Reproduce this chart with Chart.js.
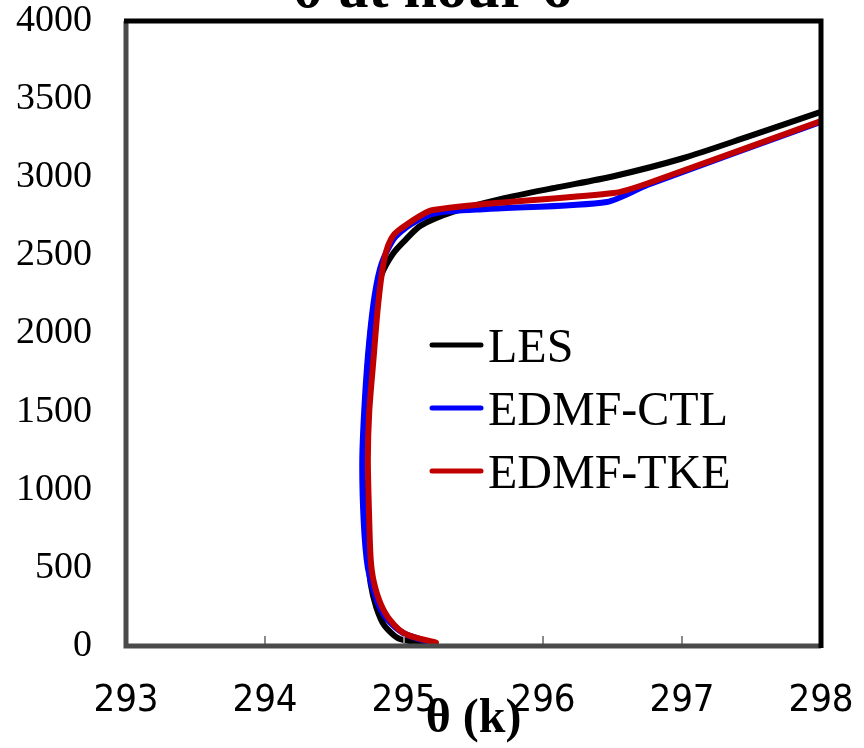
<!DOCTYPE html>
<html>
<head>
<meta charset="utf-8">
<script src="https://cdn.jsdelivr.net/npm/chart.js@4.4.1/dist/chart.umd.min.js"></script>
<style>
  html, body { margin: 0; padding: 0; background: #fff; }
</style>
</head>
<body>
<canvas id="thetaChart" width="864" height="748"></canvas>
<script>
const seriesNames = ['LES', 'EDMF-CTL', 'EDMF-TKE'];
const seriesColors = ['#000000', '#0000FF', '#C00000'];

// LES profile: theta (K) vs height (m)
const lesTheta = [295.20, 294.97, 294.86, 294.80, 294.76, 294.73, 294.72, 294.72, 294.74, 294.78, 294.84, 294.92, 295.00, 295.12, 295.35, 295.70, 296.10, 296.50, 297.00, 297.47, 298.00];
const lesHeight = [15, 45, 130, 250, 400, 650, 1000, 1400, 1800, 2150, 2380, 2510, 2590, 2690, 2778, 2862, 2935, 3005, 3120, 3258, 3418];

// EDMF control run
const ctlTheta = [295.20, 295.00, 294.88, 294.80, 294.74, 294.71, 294.70, 294.72, 294.75, 294.79, 294.84, 294.93, 295.05, 295.23, 295.60, 296.46, 296.75, 298.00];
const ctlHeight = [20, 80, 170, 300, 500, 800, 1200, 1600, 1950, 2250, 2450, 2610, 2700, 2771, 2797, 2842, 2950, 3355];

// EDMF with TKE scheme
const tkeTheta = [295.23, 295.01, 294.90, 294.83, 294.78, 294.76, 294.75, 294.74, 294.75, 294.78, 294.81, 294.84, 294.87, 294.91, 294.96, 295.21, 296.51, 296.75, 298.00];
const tkeHeight = [21, 77, 166, 275, 422, 560, 800, 1190, 1500, 1830, 2150, 2380, 2520, 2610, 2660, 2790, 2899, 2960, 3360];

const xTicks = [293, 294, 295, 296, 297, 298];
const yTicks = [0, 500, 1000, 1500, 2000, 2500, 3000, 3500, 4000];

const toPoints = (theta, height) => theta.map((t, i) => ({ x: t, y: height[i] }));

// frame, inner tick marks, legend and clipped title
const decorations = {
    id: 'decorations',
    afterDatasetsDraw(chart) {
        const ctx = chart.ctx;
        const a = chart.chartArea;
        const xs = chart.scales.x;
        ctx.save();

        ctx.strokeStyle = '#8a8a8a';
        ctx.lineWidth = 2;
        xTicks.forEach(v => {
            const px = xs.getPixelForValue(v);
            ctx.beginPath();
            ctx.moveTo(px, a.bottom - 10);
            ctx.lineTo(px, a.bottom);
            ctx.stroke();
        });

        ctx.lineWidth = 5;
        ctx.strokeStyle = '#4a4a4a';
        ctx.beginPath();
        ctx.moveTo(a.left, a.top);
        ctx.lineTo(a.left, a.bottom);
        ctx.lineTo(a.right, a.bottom);
        ctx.stroke();
        ctx.strokeStyle = '#000';
        ctx.beginPath();
        ctx.moveTo(a.left - 2, a.top);
        ctx.lineTo(a.right, a.top);
        ctx.lineTo(a.right, a.bottom + 2);
        ctx.stroke();

        // legend
        ctx.font = '48px "Liberation Serif", "Times New Roman", serif';
        ctx.textBaseline = 'alphabetic';
        ctx.textAlign = 'left';
        ctx.lineCap = 'round';
        chart.data.datasets.forEach((ds, i) => {
            const y = 345 + i * 63;
            ctx.strokeStyle = ds.borderColor;
            ctx.lineWidth = 5;
            ctx.beginPath();
            ctx.moveTo(432, y);
            ctx.lineTo(481, y);
            ctx.stroke();
            ctx.fillStyle = '#000';
            ctx.fillText(ds.label, 488, y + 17);
        });

        ctx.font = 'bold 60px "Liberation Serif", "Times New Roman", serif';
        ctx.textAlign = 'center';
        ctx.fillText('θ at hour 6', 432, 7);
        ctx.restore();
    }
};

new Chart(document.getElementById('thetaChart').getContext('2d'), {
    type: 'line',
    data: {
        datasets: [
            { label: seriesNames[0], data: toPoints(lesTheta, lesHeight), borderColor: seriesColors[0], order: 3 },
            { label: seriesNames[1], data: toPoints(ctlTheta, ctlHeight), borderColor: seriesColors[1], order: 2 },
            { label: seriesNames[2], data: toPoints(tkeTheta, tkeHeight), borderColor: seriesColors[2], order: 1 },
        ],
    },
    options: {
        responsive: false,
        animation: false,
        devicePixelRatio: 1,
        layout: { padding: { left: 0, right: 43, top: 21, bottom: 0 } },
        elements: {
            line: { borderWidth: 6, tension: 0.25, borderCapStyle: 'round', borderJoinStyle: 'round', fill: false },
            point: { radius: 0 },
        },
        plugins: {
            legend: { display: false },
            tooltip: { enabled: false },
        },
        scales: {
            x: {
                type: 'linear',
                min: 293,
                max: 298,
                afterBuildTicks: s => { s.ticks = xTicks.map(v => ({ value: v })); },
                afterFit: s => { s.height = 102; s.paddingLeft = 0; s.paddingRight = 0; },
                grid: { display: false, drawTicks: false },
                border: { display: false },
                ticks: {
                    padding: 36,
                    color: '#000',
                    maxRotation: 0,
                    callback: v => String(v),
                    font: { family: '"Liberation Sans Narrow", "DejaVu Sans Condensed", sans-serif', size: 38, lineHeight: 1 },
                },
                title: {
                    display: true,
                    text: 'θ (k)',
                    color: '#000',
                    padding: 0,
                    font: { family: '"Liberation Serif", "Times New Roman", serif', size: 48, weight: 'bold' },
                },
            },
            y: {
                type: 'linear',
                min: 0,
                max: 4000,
                afterBuildTicks: s => { s.ticks = yTicks.map(v => ({ value: v })); },
                afterFit: s => { s.width = 126; s.paddingTop = 0; s.paddingBottom = 0; },
                grid: { display: false, drawTicks: false },
                border: { display: false },
                ticks: {
                    padding: 34,
                    color: '#000',
                    callback: v => String(v),
                    font: { family: '"Liberation Serif", "Times New Roman", serif', size: 38, lineHeight: 1 },
                },
            },
        },
    },
    plugins: [decorations],
});
</script>
</body>
</html>
